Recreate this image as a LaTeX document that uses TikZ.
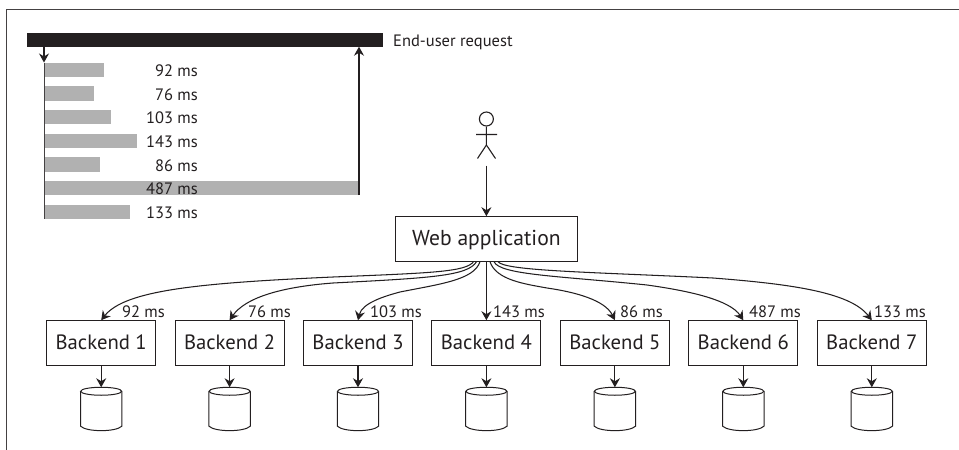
\documentclass[tikz,border=0pt]{standalone}
\usepackage{fontspec}
\setmainfont{PT Sans}
\usetikzlibrary{arrows.meta,calc}
\definecolor{ink}{HTML}{231F20}
\definecolor{barg}{HTML}{B1B1B1}
\tikzset{
  tip/.style={-{Stealth[length=9pt,width=10pt,inset=3pt]}},
  lnk/.style={ink,line width=1.05pt,tip},
  boxn/.style={draw=ink,line width=1pt,fill=white,inner sep=0pt,minimum height=45pt,text=ink,text height=14pt,text depth=2.4pt},
  bk/.style={boxn,minimum width=109pt,font=\fontsize{20.7}{22}\selectfont},
  db/.style={inner sep=0pt,minimum width=41pt,minimum height=42.5pt},
  dbline/.style={draw=ink,line width=1pt},
  bar/.style={fill=barg,inner sep=0pt,minimum height=14.5pt,anchor=west},
  ms/.style={font=\fontsize{16.5}{18}\selectfont,text=ink,inner sep=0pt,anchor=east},
}
\begin{document}
\begin{tikzpicture}[x=1pt,y=-1pt]
\useasboundingbox (0,0) rectangle (959,450);
\fill[white] (0,0) rectangle (959,450);
\coordinate (fa) at (6,450);
\coordinate (fb) at (6,9);
\coordinate (fc) at (959,9);
\draw[ink!85,line width=1pt] (fa) -- (fb) -- (fc);
% top bar
\node[fill=ink,inner sep=0pt,minimum width=356.5pt,minimum height=14pt,anchor=west] (req) at (26.5,39.5) {};
\node[ms,anchor=base west] (reql) at (393,46.5) {End-user request};
% grey bars
\foreach \n/\w/\y/\t in {1/59.5/70/92,2/49.5/93.5/76,3/66.5/117.2/103,4/92.5/141/143,5/56/164.7/86,6/315/188/487,7/86/212/133}{
  \node[bar,minimum width=\w pt] (g\n) at (44,\y) {};
  \node[ms] (t\n) at (198,\y+1) {\t\ ms};
}
\coordinate (ltop) at (44,46.5);
\coordinate (lmid) at (44,62.5);
\coordinate (lbot) at (44,219.2);
\coordinate (rbot) at (359,195.2);
\draw[ink!85,line width=1pt] (lmid) -- (lbot);
\draw[lnk] (ltop) -- (lmid);
\draw[lnk] (rbot) -- (rbot |- req.south);
% person
\node[circle,draw=ink,line width=1.1pt,minimum size=14pt,inner sep=0pt] (head) at (486.4,119) {};
\coordinate (hip) at (486.4,145);
\coordinate (arml) at (476,134.5);
\coordinate (armr) at (497,134.5);
\coordinate (legl) at (477.5,158.5);
\coordinate (legr) at (495.5,158.5);
\draw[ink,line width=1.1pt] (head.south) -- (hip) (arml) -- (armr) (legl) -- (hip) -- (legr);
% web
\node[boxn,minimum width=182.7pt,font=\fontsize{21.6}{24}\selectfont] (web) at (486.4,239.2) {Web application};
\coordinate (pers) at (486.4,165.5);
\draw[lnk] (pers) -- (web.north);
% backends
\foreach \n/\x in {1/101.2,2/229.6,3/358,4/486.4,5/614.9,6/743.3,7/871.8}{
  \node[bk] (b\n) at (\x,343.2) {Backend \n};
  \node[db] (d\n) at (\x,408.7) {};
  \draw[dbline] ($(d\n.north)+(0,4)$) ellipse [x radius=20.5,y radius=4];
  \draw[dbline] ($(d\n.north west)+(0,4)$) -- ($(d\n.south west)+(0,-4)$)
     .. controls ($(d\n.south west)+(6,2)$) and ($(d\n.south east)+(-6,2)$) .. ($(d\n.south east)+(0,-4)$)
     -- ($(d\n.north east)+(0,4)$);
  \draw[lnk] (b\n.south) -- (d\n.north);
}
% web to backends
\coordinate (w1) at (473.5,261.7);
\coordinate (w2) at (476.5,261.7);
\coordinate (w3) at (480,261.7);
\coordinate (w5) at (490,261.7);
\coordinate (w6) at (494,261.7);
\coordinate (w7) at (498,261.7);
\draw[lnk] (w1) .. controls (466,272) and (430,273) .. (333,277) .. controls (200,283) and (125,290) .. (b1.north);
\draw[lnk] (w2) .. controls (468,276) and (430,278) .. (333,283) .. controls (280,287) and (245,298) .. (b2.north);
\draw[lnk] (w3) .. controls (474,280) and (440,284) .. (400,292) .. controls (385,296) and (362,303) .. (b3.north);
\draw[lnk] (web.south) -- (b4.north);
\draw[lnk] (w5) .. controls (496,280) and (525,284) .. (547,288) .. controls (575,292) and (605,300) .. (b5.north);
\draw[lnk] (w6) .. controls (500,275) and (560,276) .. (647,285) .. controls (690,291) and (730,300) .. (b6.north);
\draw[lnk] (w7) .. controls (505,271) and (590,272) .. (713,278) .. controls (790,284) and (850,292) .. (b7.north);
\foreach \n/\x/\t in {1/165/92,2/291/76,3/422/103,4/545/143,5/663/86,6/801/487,7/926/133}{
  \node[ms] (l\n) at (\x,311.5) {\t\ ms};
}
\end{tikzpicture}
\end{document}
